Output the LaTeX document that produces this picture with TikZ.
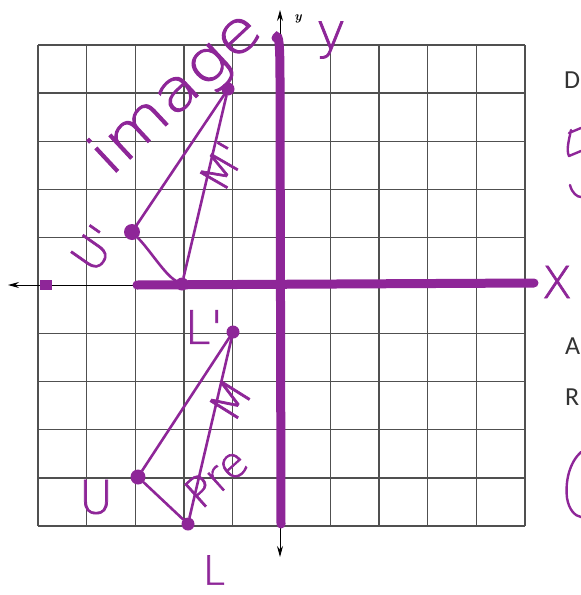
\documentclass[tikz,border=0pt]{standalone}
\usepackage{fontspec}
\newfontfamily\labelfont{Carlito}
\newfontfamily\handfont{DejaVu Sans}[UprightFont=* ExtraLight, FakeBold=1.6]
\usetikzlibrary{arrows.meta}
\definecolor{hand}{RGB}{142,38,152}
\definecolor{gridc}{RGB}{80,80,80}
\tikzset{
  gridline/.style={draw=gridc, line width=1.3pt},
  blackaxis/.style={draw=black, line width=1pt},
  handaxis/.style={draw=hand, line width=9pt, line cap=round},
  handline/.style={draw=hand, line width=2.6pt, line cap=round},
  handmark/.style={draw=hand, line width=2.4pt, line cap=round, line join=round},
  dot/.style={circle, fill=hand, inner sep=0pt, minimum size=#1},
  dot/.default=13pt,
  hw/.style={text=hand, inner sep=0pt, font=\handfont\fontsize{40}{40}\selectfont},
  sidetext/.style={text=black!80, anchor=west, inner sep=0pt, font=\labelfont\fontsize{26}{26}\selectfont},
}
\begin{document}
\begin{tikzpicture}[x=1pt,y=-1pt]
\useasboundingbox[fill=white] (0,0) rectangle (581,595);
% grid
\foreach \i in {0,...,10}{
  \draw[gridline] ({38+\i*48.7},45) -- ({38+\i*48.7},526);
  \draw[gridline] (38,{45+\i*48.1}) -- (525,{45+\i*48.1});
}
% black axes
\coordinate (ytop) at (280,10);
\coordinate (ybot) at (280,557);
\coordinate (xleft) at (8,285);
\coordinate (xright) at (532,285);
\draw[blackaxis, {Stealth[length=11pt,width=6pt]}-{Stealth[length=11pt,width=6pt]}] (ybot) -- (ytop);
\draw[blackaxis, {Stealth[length=11pt,width=6pt]}-] (xleft) -- (xright);
\node[font=\itshape\bfseries\fontsize{13}{13}\selectfont, inner sep=0pt] (ylab) at (298,19) {y};
% purple axes
\coordinate (py1) at (276,38);
\coordinate (py2) at (281,524);
\coordinate (px1) at (137,285);
\coordinate (px2) at (534,283);
\draw[handaxis] (py1) .. controls (279,33) and (280,45) .. (280,80) -- (py2);
\draw[handaxis] (px1) -- (px2);
\draw[handaxis, line cap=butt, line width=10pt] (40,285) -- (52,285);
% image triangle
\node[dot] (Mi) at (228,89) {};
\node[dot=16pt] (Ui) at (132,232) {};
\node[dot] (Li) at (182,284) {};
\draw[handline] (Ui) -- (Mi);
\draw[handline] (Mi) -- (Li);
\draw[handline] (Ui) .. controls (150,250) and (165,275) .. (Li);
% preimage triangle
\node[dot] (M) at (233,332) {};
\node[dot=15pt] (U) at (138,477) {};
\node[dot] (L) at (188,524) {};
\draw[handline] (U) -- (M);
\draw[handline] (M) -- (L);
\draw[handline] (U) -- (L);
% handwritten labels
\node[hw, rotate=43, font=\handfont\fontsize{57}{57}\selectfont] (timage) at (177,94) {\scalebox{1.2}[1]{image}};
\node[hw, rotate=55, font=\handfont\fontsize{44}{44}\selectfont] (tUi) at (94,248) {U'};
\node[hw, rotate=60, font=\handfont\fontsize{42}{42}\selectfont] (tMi) at (222,166) {M'};
\node[hw, font=\handfont\fontsize{46}{46}\selectfont] (tLi) at (204,327) {L'};
\node[hw, rotate=58, font=\handfont\fontsize{44}{44}\selectfont] (tM) at (230,400) {M};
\node[hw, rotate=42, font=\handfont\fontsize{42}{42}\selectfont] (tPre) at (216,477) {Pre};
\node[hw, font=\handfont\fontsize{46}{46}\selectfont] (tU) at (96,497) {U};
\node[hw, font=\handfont\fontsize{40}{40}\selectfont] (tL) at (214,570) {L};
\node[hw, font=\handfont\fontsize{50}{50}\selectfont] (ty) at (331,40) {y};
\node[hw, font=\handfont\fontsize{44}{44}\selectfont] (tx) at (557,282) {X};
% right-side text
\node[sidetext] (tD) at (564,80) {D};
\node[sidetext] (tA) at (565,346) {A};
\node[sidetext] (tR) at (565,397) {R};
\draw[handmark] (569,133) -- (581,128) (571,130) .. controls (569,140) and (566,150) .. (569,156) -- (581,151);
\draw[handmark] (570,185) .. controls (572,193) and (577,197) .. (581,197);
\draw[handmark] (581,452) .. controls (570,462) and (565,480) .. (567,498) .. controls (569,510) and (575,516) .. (581,517);
\end{tikzpicture}
\end{document}
